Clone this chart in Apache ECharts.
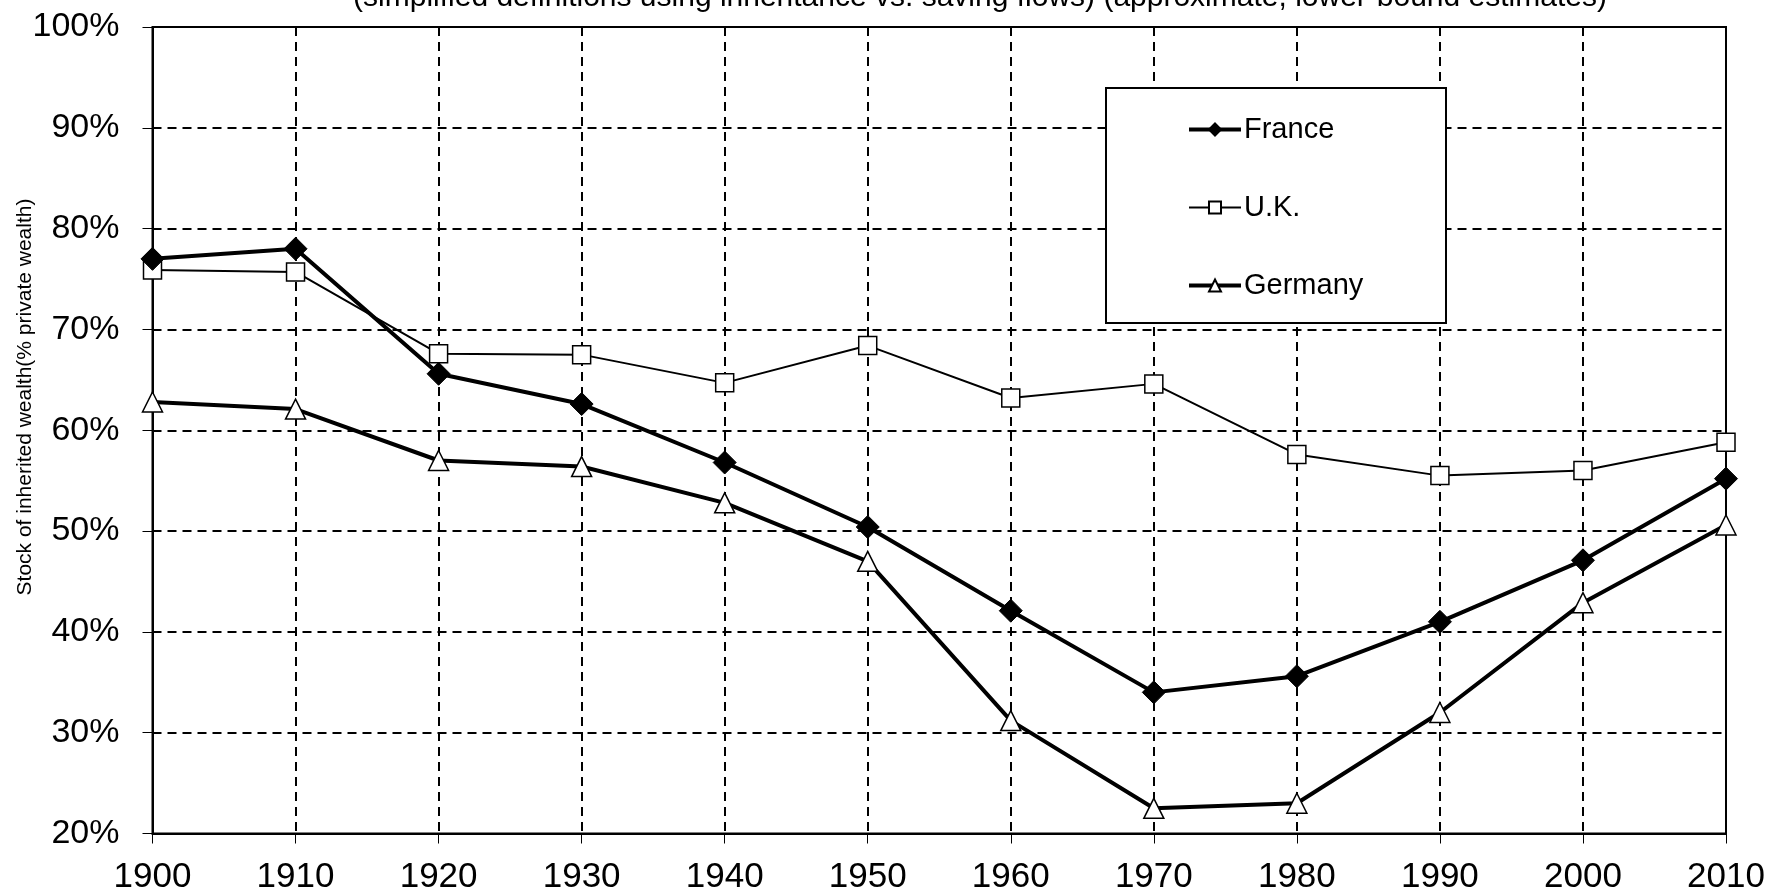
<!DOCTYPE html>
<html>
<head>
<meta charset="utf-8">
<script src="https://cdn.jsdelivr.net/npm/echarts@6/dist/echarts.min.js"></script>
<style>
html,body{margin:0;padding:0;background:#fff;}
#chart{width:1771px;height:896px;}
</style>
</head>
<body>
<div id="chart"></div>
<script>
const years = ['1900','1910','1920','1930','1940','1950','1960','1970','1980','1990','2000','2010'];
const france = [77.0, 78.0, 65.6, 62.6, 56.8, 50.4, 42.1, 34.0, 35.6, 41.0, 47.1, 55.2];
const uk = [75.9, 75.7, 67.6, 67.5, 64.7, 68.4, 63.2, 64.6, 57.6, 55.5, 56.0, 58.8];
const germany = [62.8, 62.1, 57.0, 56.4, 52.8, 47.0, 31.2, 22.5, 23.0, 32.0, 42.9, 50.6];
const subtitle = '(simplified definitions using inheritance vs. saving flows) (approximate, lower-bound estimates)';
const yAxisName = 'Stock of inherited wealth(% private wealth)';

const FONT = "'Liberation Sans', Arial, sans-serif";
const chart = echarts.init(document.getElementById('chart'), null, {renderer: 'canvas'});

chart.setOption({
  backgroundColor: '#ffffff',
  animation: false,
  textStyle: {fontFamily: FONT, color: '#000'},
  grid: {
    left: 152.5, right: 45, top: 27, bottom: 62.5,
    show: true, borderColor: '#000', borderWidth: 2, backgroundColor: 'transparent'
  },
  graphic: [
    {
      type: 'text', z: 100,
      style: {x: 980, y: -2.5, text: subtitle, fontSize: 30, fontFamily: FONT, fill: '#000', textAlign: 'center', textVerticalAlign: 'middle'}
    },
    {
      type: 'text', z: 100,
      rotation: Math.PI / 2,
      x: 25, y: 397,
      style: {x: 0, y: 0, text: yAxisName, fontSize: 21, fontFamily: FONT, fill: '#000', textAlign: 'center', textVerticalAlign: 'middle'}
    },
    {
      type: 'rect', z: 50,
      shape: {x: 1106, y: 88, width: 340, height: 235},
      style: {fill: '#fff', stroke: '#000', lineWidth: 2}
    }
  ],
  legend: {
    orient: 'vertical',
    left: 1182, top: 110,
    z: 60,
    itemWidth: 52, itemHeight: 15,
    itemGap: 49,
    textStyle: {fontSize: 29, fontFamily: FONT, color: '#000', padding: [0,0,0,-2]},
    data: [
      {name: 'France', lineStyle: {width: 4}},
      {name: 'U.K.', lineStyle: {width: 2}},
      {name: 'Germany', lineStyle: {width: 4}}
    ]
  },
  xAxis: {
    type: 'category',
    data: years,
    boundaryGap: false,
    axisLine: {show: true, lineStyle: {color: '#000', width: 2}},
    axisTick: {show: true, alignWithLabel: true, length: 10, lineStyle: {color: '#000', width: 1}},
    axisLabel: {fontSize: 35, fontFamily: FONT, color: '#000', margin: 26},
    splitLine: {show: true, lineStyle: {color: '#000', width: 2, type: [9, 6]}}
  },
  yAxis: {
    type: 'value',
    min: 20, max: 100, interval: 10,
    axisLine: {show: true, lineStyle: {color: '#000', width: 2}},
    axisTick: {show: true, length: 10, lineStyle: {color: '#000', width: 1}},
    axisLabel: {fontSize: 34, fontFamily: FONT, color: '#000', margin: 33, formatter: '{value}%'},
    splitLine: {show: true, lineStyle: {color: '#000', width: 2, type: [9, 6]}}
  },
  series: [
    {
      name: 'France', type: 'line', data: france,
      symbol: 'diamond', symbolSize: 23,
      lineStyle: {color: '#000', width: 4},
      itemStyle: {color: '#000', borderColor: '#000', borderWidth: 1},
      z: 5
    },
    {
      name: 'U.K.', type: 'line', data: uk,
      symbol: 'rect', symbolSize: 18,
      lineStyle: {color: '#000', width: 2},
      itemStyle: {color: '#fff', borderColor: '#000', borderWidth: 1.5},
      z: 4
    },
    {
      name: 'Germany', type: 'line', data: germany,
      symbol: 'triangle', symbolSize: 20,
      lineStyle: {color: '#000', width: 4},
      itemStyle: {color: '#fff', borderColor: '#000', borderWidth: 1.5},
      z: 3
    }
  ]
});
</script>
</body>
</html>
